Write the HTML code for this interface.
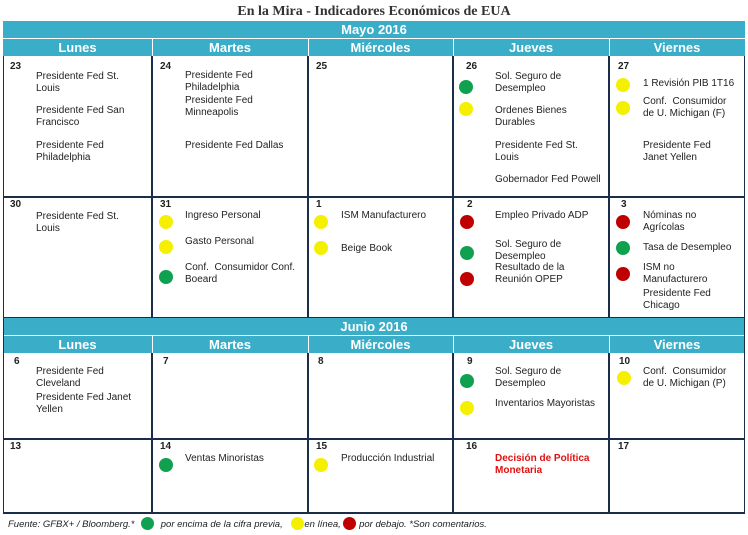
<!DOCTYPE html>
<html><head><meta charset="utf-8"><style>
body{margin:0;width:748px;height:535px;background:#fff;position:relative;font-family:"Liberation Sans",Arial,sans-serif;overflow:hidden}
.a{position:absolute}
.t{position:absolute;font-size:10px;line-height:12px;color:#222;white-space:nowrap}
.n{position:absolute;font-size:10px;color:#222;font-weight:bold}
.c{position:absolute;width:14px;height:14px;border-radius:50%}
.g{background:#0fa050}.y{background:#f5f000}.r{background:#c00000}
.band{position:absolute;left:3px;width:742px;background:#3aaec8;color:#fff;font-weight:bold;text-align:center}
.h{position:absolute;color:#fff;font-weight:bold;font-size:13px;text-align:center;line-height:17px}
.vl{position:absolute;width:2px;background:#1a2e4a}
.hl{position:absolute;height:2px;left:3px;width:742px;background:#1a2e4a}
</style></head><body>
<div class="a" style="left:0;width:748px;top:4px;text-align:center;font-family:'Liberation Serif',serif;font-weight:bold;font-size:14px;color:#333">En la Mira - Indicadores Económicos de EUA</div>
<div class="band" style="top:21px;height:35px"></div>
<div class="a" style="left:3px;width:742px;top:22px;text-align:center;color:#fff;font-weight:bold;font-size:13px">Mayo 2016</div>
<div class="a" style="left:3px;width:742px;top:38px;height:1px;background:#fff"></div>
<div class="band" style="top:318px;height:35px"></div>
<div class="a" style="left:3px;width:742px;top:319px;text-align:center;color:#fff;font-weight:bold;font-size:13px">Junio 2016</div>
<div class="a" style="left:3px;width:742px;top:335px;height:1px;background:#fff"></div>
<div id="hdr"></div>
<div class="a" style="left:3px;top:56px;width:740px;height:456px;border:1px solid #1a2e4a;border-top:none;border-bottom:2px solid #1a2e4a"></div>
<div class="hl" style="top:196px"></div>
<div class="hl" style="top:438px"></div>
<div class="vl" style="left:151px;top:56px;height:262px"></div>
<div class="vl" style="left:307px;top:56px;height:262px"></div>
<div class="vl" style="left:452px;top:56px;height:262px"></div>
<div class="vl" style="left:608px;top:56px;height:262px"></div>
<div class="vl" style="left:151px;top:353px;height:161px"></div>
<div class="vl" style="left:307px;top:353px;height:161px"></div>
<div class="vl" style="left:452px;top:353px;height:161px"></div>
<div class="vl" style="left:608px;top:353px;height:161px"></div>
<div class="a" style="left:3px;top:317px;width:742px;height:1px;background:#1a2e4a"></div>
<div id="cal"></div>
<div class="a" style="left:8px;top:517px;font-size:9.5px;font-style:italic;color:#222;white-space:nowrap">Fuente: GFBX+ / Bloomberg.* <span style="display:inline-block;width:13px;height:13px;border-radius:50%;background:#0fa050;vertical-align:-3px;margin:0 4px"></span> por encima de la cifra previa, <span style="display:inline-block;width:13px;height:13px;border-radius:50%;background:#f5f000;vertical-align:-3px;margin:0 0 0 6px"></span>en línea, <span style="display:inline-block;width:13px;height:13px;border-radius:50%;background:#c00000;vertical-align:-3px"></span> por debajo. *Son comentarios.</div>
<script>
const days=["Lunes","Martes","Miércoles","Jueves","Viernes"];
const colX=[3,152,308,453,609,745];
const hdr=document.getElementById('hdr');
[39,336].forEach(function(top){
 days.forEach(function(d,i){
  const e=document.createElement('div');e.className='h';
  
  
  e.style.left=colX[i]+'px';e.style.width=(colX[i+1]-colX[i])+'px';e.style.top=top+'px';e.textContent=d;
  hdr.appendChild(e);
  if(i>0){const l=document.createElement('div');l.className='a';l.style.cssText='left:'+colX[i]+'px;top:'+top+'px;width:1px;height:17px;background:#fff';hdr.appendChild(l);}
 });
});
const nums=[[23,10,67],[24,160,67],[25,316,67],[26,466,67],[27,618,67],[30,10,205],[31,160,205],[1,316,205],[2,467,205],[3,621,205],[6,14,362],[7,163,362],[8,318,362],[9,467,362],[10,619,362],[13,10,447],[14,160,447],[15,316,447],[16,466,447],[17,618,447]];
const texts=[[36,77,"Presidente Fed St.<br>Louis"],[36,111,"Presidente Fed San<br>Francisco"],[36,146,"Presidente Fed<br>Philadelphia"],
[185,76,"Presidente Fed<br>Philadelphia"],[185,101,"Presidente Fed<br>Minneapolis"],[185,146,"Presidente Fed Dallas"],
[495,77,"Sol. Seguro de<br>Desempleo"],[495,111,"Ordenes Bienes<br>Durables"],[495,146,"Presidente Fed St.<br>Louis"],[495,180,"Gobernador Fed Powell"],
[643,84,"1 Revisión PIB 1T16"],[643,102,"Conf.&nbsp; Consumidor<br>de U. Michigan (F)"],[643,146,"Presidente Fed<br>Janet Yellen"],
[36,217,"Presidente Fed St.<br>Louis"],
[185,216,"Ingreso Personal"],[185,242,"Gasto Personal"],[185,268,"Conf.&nbsp; Consumidor Conf.<br>Boeard"],
[341,216,"ISM Manufacturero"],[341,249,"Beige Book"],
[495,216,"Empleo Privado ADP"],[495,245,"Sol. Seguro de<br>Desempleo"],[495,268,"Resultado de la<br>Reunión OPEP"],
[643,216,"Nóminas no<br>Agrícolas"],[643,248,"Tasa de Desempleo"],[643,268,"ISM no<br>Manufacturero"],[643,294,"Presidente Fed<br>Chicago"],
[36,372,"Presidente Fed<br>Cleveland"],[36,398,"Presidente Fed Janet<br>Yellen"],
[495,372,"Sol. Seguro de<br>Desempleo"],[495,404,"Inventarios Mayoristas"],
[643,372,"Conf.&nbsp; Consumidor<br>de U. Michigan (P)"],
[185,459,"Ventas Minoristas"],[341,459,"Producción Industrial"]];
const dots=[[466,87,'g'],[466,109,'y'],[623,85,'y'],[623,108,'y'],[166,222,'y'],[166,247,'y'],[166,277,'g'],[321,222,'y'],[321,248,'y'],[467,222,'r'],[467,253,'g'],[467,279,'r'],[623,222,'r'],[623,248,'g'],[623,274,'r'],[467,381,'g'],[467,408,'y'],[624,378,'y'],[166,465,'g'],[321,465,'y']];
const cal=document.getElementById('cal');
nums.forEach(function(n){const e=document.createElement('div');e.className='n';
 
 
 e.style.left=n[1]+'px';e.style.top=(n[2]-6)+'px';e.textContent=n[0];cal.appendChild(e);});
texts.forEach(function(t){const e=document.createElement('div');e.className='t';
 
 
 e.style.left=t[0]+'px';e.style.top=(t[1]-6)+'px';e.innerHTML=t[2];cal.appendChild(e);});
dots.forEach(function(d){const e=document.createElement('div');e.className='c '+d[2];
 
 
 e.style.left=(d[0]-7)+'px';e.style.top=(d[1]-7)+'px';cal.appendChild(e);});
const red=document.createElement('div');red.className='t';


red.style.cssText='left:495px;top:453px;color:#e01010;font-weight:bold';red.innerHTML='Decisión de Política<br>Monetaria';cal.appendChild(red);
</script>
</body></html>
